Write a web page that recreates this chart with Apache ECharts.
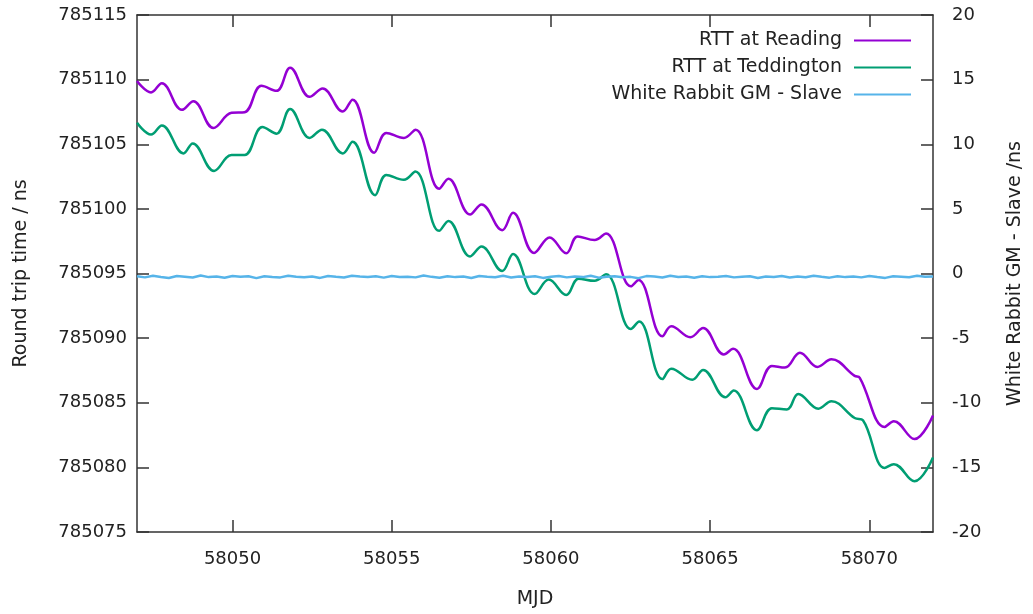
<!DOCTYPE html>
<html>
<head>
<meta charset="utf-8">
<script src="https://cdn.jsdelivr.net/npm/echarts@6/dist/echarts.min.js"></script>
<style>
  html, body { margin: 0; padding: 0; background: #fff; }
  #chart { width: 1033px; height: 614px; }
</style>
</head>
<body>
<div id="chart"></div>
<script>
// x tick positions (MJD)
const mjdTicks = [58050, 58055, 58060, 58065, 58070];

// RTT at Reading
const readingMjd = [58047.00, 58047.44, 58047.78, 58048.41, 58048.77, 58049.40, 58049.97, 58050.38, 58050.91, 58051.38,
  58051.81, 58052.42, 58052.83, 58053.46, 58053.77, 58054.45, 58054.83, 58055.38, 58055.75, 58056.49,
  58056.78, 58057.46, 58057.82, 58058.47, 58058.81, 58059.47, 58059.96, 58060.48, 58060.84, 58061.37,
  58061.73, 58062.51, 58062.75, 58063.50, 58063.78, 58064.38, 58064.78, 58065.43, 58065.72, 58066.47,
  58066.94, 58067.35, 58067.82, 58068.37, 58068.81, 58069.54, 58069.70, 58070.48, 58070.77, 58071.42, 58072.00];
const readingRtt = [785109.90, 785109.01, 785109.72, 785107.66, 785108.32, 785106.26, 785107.43, 785107.48, 785109.52, 785109.13,
  785110.92, 785108.67, 785109.32, 785107.53, 785108.45, 785104.35, 785105.88, 785105.49, 785106.13, 785101.56,
  785102.33, 785099.57, 785100.34, 785098.35, 785099.70, 785096.59, 785097.79, 785096.57, 785097.87, 785097.59,
  785098.10, 785094.01, 785094.50, 785090.14, 785090.91, 785090.07, 785090.78, 785088.74, 785089.17, 785086.07,
  785087.85, 785087.72, 785088.87, 785087.77, 785088.36, 785087.08, 785086.93, 785083.13, 785083.57, 785082.19, 785084.02];

// RTT at Teddington
const tedMjd = [58047.00, 58047.44, 58047.78, 58048.46, 58048.75, 58049.42, 58049.97, 58050.38, 58050.94, 58051.38,
  58051.81, 58052.42, 58052.81, 58053.46, 58053.77, 58054.48, 58054.83, 58055.38, 58055.74, 58056.49,
  58056.78, 58057.46, 58057.82, 58058.47, 58058.81, 58059.49, 58059.93, 58060.48, 58060.87, 58061.37,
  58061.73, 58062.51, 58062.77, 58063.50, 58063.78, 58064.44, 58064.78, 58065.48, 58065.74, 58066.47,
  58066.94, 58067.41, 58067.77, 58068.40, 58068.81, 58069.54, 58069.80, 58070.48, 58070.77, 58071.42, 58072.00];
const tedRtt = [785106.66, 785105.75, 785106.46, 785104.29, 785105.06, 785102.94, 785104.16, 785104.16, 785106.33, 785105.82,
  785107.73, 785105.49, 785106.13, 785104.29, 785105.19, 785101.06, 785102.63, 785102.25, 785102.89, 785098.30,
  785099.07, 785096.32, 785097.08, 785095.19, 785096.51, 785093.41, 785094.53, 785093.33, 785094.60, 785094.43,
  785094.94, 785090.70, 785091.29, 785086.83, 785087.64, 785086.78, 785087.54, 785085.42, 785085.94, 785082.88,
  785084.58, 785084.48, 785085.68, 785084.54, 785085.12, 785083.82, 785083.64, 785079.95, 785080.25, 785078.92, 785080.76];

// White Rabbit GM - Slave, sampled every quarter day from 58047
const wrStart = 58047;
const wrStep = 0.25;
const wrOffset = [-0.22, -0.30, -0.18, -0.27, -0.35, -0.20, -0.25, -0.31, -0.16, -0.28,
  -0.24, -0.33, -0.19, -0.26, -0.22, -0.36, -0.21, -0.27, -0.30, -0.17,
  -0.25, -0.29, -0.23, -0.34, -0.20, -0.26, -0.31, -0.18, -0.24, -0.28,
  -0.22, -0.32, -0.19, -0.27, -0.25, -0.30, -0.16, -0.26, -0.33, -0.21,
  -0.28, -0.23, -0.35, -0.20, -0.25, -0.29, -0.18, -0.31, -0.24, -0.27,
  -0.21, -0.34, -0.26, -0.19, -0.30, -0.23, -0.28, -0.17, -0.32, -0.25,
  -0.22, -0.29, -0.26, -0.36, -0.20, -0.24, -0.31, -0.18, -0.27, -0.23,
  -0.33, -0.21, -0.28, -0.25, -0.19, -0.30, -0.26, -0.22, -0.35, -0.24,
  -0.27, -0.20, -0.31, -0.23, -0.29, -0.17, -0.26, -0.32, -0.21, -0.28,
  -0.24, -0.30, -0.19, -0.27, -0.34, -0.22, -0.25, -0.29, -0.18, -0.26, -0.24];

const pairs = (xs, ys) => xs.map((x, i) => [x, ys[i]]);
const wrData = wrOffset.map((v, i) => [wrStart + i * wrStep, v]);

const font = 'DejaVu Sans';
const ink = '#222';
const frame = { show: true, onZero: false, lineStyle: { color: '#333', width: 1.5 } };
const tick = { inside: true, length: 12, lineStyle: { color: '#333', width: 1.5 } };

let chart = echarts.init(document.getElementById('chart'));
let option = {
  animation: false,
  backgroundColor: '#fff',
  textStyle: { fontFamily: font, color: ink },
  grid: { left: 137, right: 94, top: 15, bottom: 76 },
  legend: {
    orient: 'vertical',
    align: 'right',
    right: 117,
    top: 26,
    itemWidth: 57,
    itemHeight: 2,
    itemGap: 8,
    icon: 'rect',
    textStyle: { fontFamily: font, fontSize: 19, color: ink, padding: [0, 7, 0, 0] },
    data: ['RTT at Reading', 'RTT at Teddington', 'White Rabbit GM - Slave']
  },
  xAxis: [{
    type: 'value',
    position: 'bottom',
    min: 58047,
    max: 58072,
    name: 'MJD',
    nameLocation: 'middle',
    nameGap: 58,
    nameTextStyle: { fontFamily: font, fontSize: 19, color: ink },
    axisLine: frame,
    axisTick: Object.assign({ customValues: mjdTicks }, tick),
    axisLabel: { customValues: mjdTicks, margin: 18, fontSize: 18, color: ink, formatter: v => String(v) },
    splitLine: { show: false }
  }, {
    type: 'value',
    position: 'top',
    min: 58047,
    max: 58072,
    axisLine: frame,
    axisTick: Object.assign({ customValues: mjdTicks }, tick),
    axisLabel: { show: false },
    splitLine: { show: false }
  }],
  yAxis: [{
    type: 'value',
    position: 'left',
    min: 785075,
    max: 785115,
    interval: 5,
    name: 'Round trip time / ns',
    nameLocation: 'middle',
    nameRotate: 90,
    nameGap: 106,
    nameTextStyle: { fontFamily: font, fontSize: 19, color: ink },
    axisLine: frame,
    axisTick: tick,
    axisLabel: { margin: 10, fontSize: 18, color: ink, formatter: v => String(v) },
    splitLine: { show: false }
  }, {
    type: 'value',
    position: 'right',
    min: -20,
    max: 20,
    interval: 5,
    name: 'White Rabbit GM - Slave /ns',
    nameLocation: 'middle',
    nameRotate: 90,
    nameGap: 73,
    nameTextStyle: { fontFamily: font, fontSize: 19, color: ink },
    axisLine: frame,
    axisTick: tick,
    axisLabel: { margin: 19, fontSize: 18, color: ink },
    splitLine: { show: false }
  }],
  series: [{
    name: 'RTT at Reading',
    type: 'line',
    xAxisIndex: 0,
    yAxisIndex: 0,
    showSymbol: false,
    smooth: 0.4,
    color: '#9400d3',
    lineStyle: { width: 2.5 },
    data: pairs(readingMjd, readingRtt)
  }, {
    name: 'RTT at Teddington',
    type: 'line',
    xAxisIndex: 0,
    yAxisIndex: 0,
    showSymbol: false,
    smooth: 0.4,
    color: '#009e73',
    lineStyle: { width: 2.5 },
    data: pairs(tedMjd, tedRtt)
  }, {
    name: 'White Rabbit GM - Slave',
    type: 'line',
    xAxisIndex: 0,
    yAxisIndex: 1,
    showSymbol: false,
    color: '#56b4e9',
    lineStyle: { width: 2.5 },
    data: wrData
  }]
};
chart.setOption(option);
</script>
</body>
</html>
